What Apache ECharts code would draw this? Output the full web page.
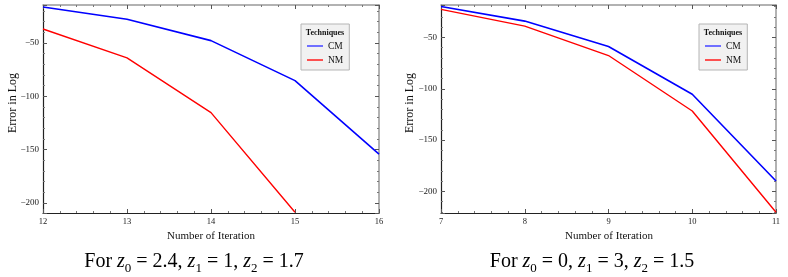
<!DOCTYPE html>
<html>
<head>
<meta charset="utf-8">
<script src="https://cdn.jsdelivr.net/npm/echarts@6/dist/echarts.min.js"></script>
<style>
html,body{margin:0;padding:0;background:#fff;}
#c{width:788px;height:277px;}
</style>
</head>
<body>
<div id="c"></div>
<script>
// ---- data ----
const leftIter = [12, 13, 14, 15, 16];
const leftCM = [-16.2, -27.8, -47.8, -85.3, -154.3];
const leftNM = [-36.9, -64.0, -115.3, -208.7];
const rightIter = [7, 8, 9, 10, 11];
const rightCM = [-19.7, -34.0, -58.8, -105.4, -190.0];
const rightNM = [-22.6, -38.9, -67.6, -121.7, -220.5];
const seriesNames = ['CM', 'NM'];
const legendTitle = 'Techniques';
const xTitle = 'Number of Iteration';
const yTitle = 'Error in Log';
const leftYRange = [-209.4, -14.4];
const rightYRange = [-221.2, -18.3];

const SERIF = '"Liberation Serif","DejaVu Serif",serif';
const pairs = (xs, ys) => ys.map((y, i) => [xs[i], y]);
const fmtY = v => (v < 0 ? '\u2212' + Math.abs(v) : String(v));

const grids = [
  {left: 43, top: 5, width: 336, height: 208},
  {left: 441, top: 5, width: 335, height: 208}
];

function xAxes(gi, xs, pos) {
  const isBottom = pos === 'bottom';
  return {
    type: 'value', gridIndex: gi, position: pos,
    min: xs[0], max: xs[xs.length - 1], interval: 1,
    axisLine: {show: true, lineStyle: {color: isBottom ? '#222' : '#999', width: isBottom ? 1.2 : 1.5}},
    axisTick: {show: true, inside: true, length: 4, lineStyle: {color: '#555'}},
    minorTick: {show: true, splitNumber: 5, length: 2, lineStyle: {color: '#777'}},
    axisLabel: {show: isBottom, fontSize: 8.5, fontFamily: SERIF, color: '#222', margin: 4},
    splitLine: {show: false}
  };
}
function yAxes(gi, rng, pos) {
  const isLeft = pos === 'left';
  return {
    type: 'value', gridIndex: gi, position: pos,
    min: rng[0], max: rng[1], splitNumber: 4,
    axisLine: {show: true, lineStyle: {color: isLeft ? '#222' : '#999', width: isLeft ? 1.2 : 1.5}},
    axisTick: {show: true, inside: true, length: 4, lineStyle: {color: '#555'}},
    minorTick: {show: true, splitNumber: 5, length: 2, lineStyle: {color: '#777'}},
    axisLabel: {show: isLeft, fontSize: 9, fontFamily: SERIF, color: '#222', margin: 4,
      showMinLabel: false, showMaxLabel: false, formatter: fmtY},
    splitLine: {show: false}
  };
}

function lineSeries(name, xi, yi, data, color, width) {
  return {
    type: 'line', name: name, xAxisIndex: xi, yAxisIndex: yi,
    data: data, showSymbol: false, symbol: 'none',
    lineStyle: {color: color, width: width}, itemStyle: {color: color},
    animation: false, clip: true
  };
}

function legend(left, top) {
  return {
    left: left, top: top, orient: 'vertical', width: 36,
    padding: [17, 6, 5, 6], itemGap: 4,
    backgroundColor: '#f1f1f1', borderColor: '#b5b5b5', borderWidth: 1,
    itemWidth: 16, itemHeight: 10, selectedMode: false,
    textStyle: {fontFamily: SERIF, fontSize: 9.5, color: '#111'},
    data: [
      {name: seriesNames[0], icon: 'path://M0,0 L16,0 L16,2 L0,2 Z', itemStyle: {color: '#6f6fff'}},
      {name: seriesNames[1], icon: 'path://M0,0 L16,0 L16,1.5 L0,1.5 Z', itemStyle: {color: '#ff1a1a'}}
    ]
  };
}

function captionText(parts) {
  return parts.map(p => '{' + p[0] + '|' + p[1] + '}').join('');
}
const captionRich = {
  r: {fontFamily: SERIF, fontSize: 20, lineHeight: 26, color: '#111'},
  i: {fontFamily: SERIF, fontSize: 20, lineHeight: 26, fontStyle: 'italic', color: '#111'},
  s: {fontFamily: SERIF, fontSize: 13, lineHeight: 14, verticalAlign: 'bottom', color: '#111'}
};
const leftCaption = captionText([['r', 'For '], ['i', 'z'], ['s', '0'], ['r', ' = 2.4, '], ['i', 'z'], ['s', '1'], ['r', ' = 1, '], ['i', 'z'], ['s', '2'], ['r', ' = 1.7']]);
const rightCaption = captionText([['r', 'For '], ['i', 'z'], ['s', '0'], ['r', ' = 0, '], ['i', 'z'], ['s', '1'], ['r', ' = 3, '], ['i', 'z'], ['s', '2'], ['r', ' = 1.5']]);

function titleText(x, y) {
  return {type: 'text', x: x, y: y, z: 100, zlevel: 1,
    style: {text: legendTitle, fontFamily: SERIF, fontSize: 8, fontWeight: 'bold', fill: '#111', textAlign: 'center', textVerticalAlign: 'middle'}};
}

const chart = echarts.init(document.getElementById('c'), null, {renderer: 'canvas'});
chart.setOption({
  animation: false,
  backgroundColor: '#fff',
  grid: grids,
  xAxis: [xAxes(0, leftIter, 'bottom'), xAxes(0, leftIter, 'top'), xAxes(1, rightIter, 'bottom'), xAxes(1, rightIter, 'top')],
  yAxis: [yAxes(0, leftYRange, 'left'), yAxes(0, leftYRange, 'right'), yAxes(1, rightYRange, 'left'), yAxes(1, rightYRange, 'right')],
  legend: [legend(301, 24), legend(699, 24)],
  series: [
    lineSeries(seriesNames[0], 0, 0, pairs(leftIter, leftCM), '#0000ff', 1.6),
    lineSeries(seriesNames[1], 0, 0, pairs(leftIter, leftNM), '#ff0000', 1.4),
    lineSeries(seriesNames[0], 2, 2, pairs(rightIter, rightCM), '#0000ff', 1.6),
    lineSeries(seriesNames[1], 2, 2, pairs(rightIter, rightNM), '#ff0000', 1.4)
  ],
  graphic: [
    titleText(325, 33),
    titleText(723, 33),
    {type: 'text', x: 13, y: 103, rotation: Math.PI / 2, style: {text: yTitle, fontFamily: SERIF, fontSize: 12, fill: '#111', textAlign: 'center', textVerticalAlign: 'middle'}},
    {type: 'text', x: 410, y: 103, rotation: Math.PI / 2, style: {text: yTitle, fontFamily: SERIF, fontSize: 12, fill: '#111', textAlign: 'center', textVerticalAlign: 'middle'}},
    {type: 'text', x: 211, y: 236, style: {text: xTitle, fontFamily: SERIF, fontSize: 11, fill: '#111', textAlign: 'center', textVerticalAlign: 'middle'}},
    {type: 'text', x: 609, y: 236, style: {text: xTitle, fontFamily: SERIF, fontSize: 11, fill: '#111', textAlign: 'center', textVerticalAlign: 'middle'}},
    {type: 'text', x: 194, y: 262, style: {text: leftCaption, rich: captionRich, textAlign: 'center', textVerticalAlign: 'middle'}},
    {type: 'text', x: 592, y: 262, style: {text: rightCaption, rich: captionRich, textAlign: 'center', textVerticalAlign: 'middle'}}
  ]
});
</script>
</body>
</html>
